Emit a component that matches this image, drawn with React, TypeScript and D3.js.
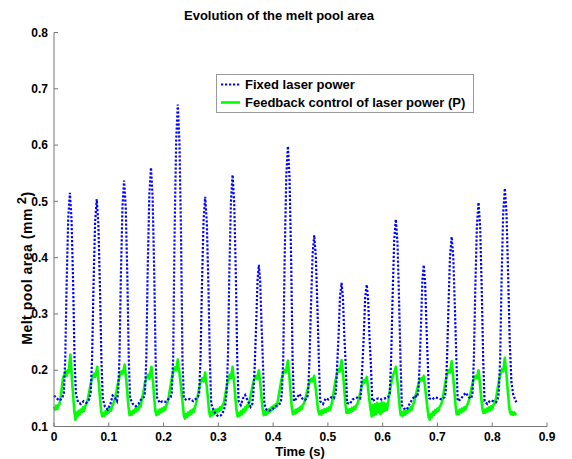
import React from "react";
import * as d3 from "d3";

const title = "Evolution of the melt pool area";
const xLabel = "Time (s)";
const seriesNames = ["Fixed laser power", "Feedback control of laser power (P)"];
const xTickValues = [0, 0.1, 0.2, 0.3, 0.4, 0.5, 0.6, 0.7, 0.8, 0.9];
const yTickValues = [0.1, 0.2, 0.3, 0.4, 0.5, 0.6, 0.7, 0.8];

// Fixed laser power: [time (s), area (mm^2)]
const fixedPower: [number, number][] = [
  [0.000,0.155],[0.005,0.150],[0.010,0.146],[0.015,0.150],
  [0.018,0.16],[0.0205,0.22],[0.023,0.351],[0.026,0.471],[0.029,0.515],[0.032,0.468],[0.035,0.352],[0.0375,0.22],[0.040,0.158],
  [0.044,0.143],[0.049,0.140],[0.054,0.145],[0.059,0.142],[0.064,0.148],
  [0.067,0.16],[0.0695,0.22],[0.072,0.345],[0.075,0.462],[0.078,0.504],[0.081,0.46],[0.084,0.343],[0.0865,0.22],[0.089,0.150],
  [0.093,0.135],[0.098,0.130],[0.103,0.140],[0.107,0.155],[0.112,0.150],[0.115,0.145],
  [0.117,0.16],[0.1195,0.22],[0.122,0.363],[0.125,0.491],[0.128,0.537],[0.131,0.488],[0.134,0.36],[0.1365,0.22],[0.139,0.150],
  [0.144,0.140],[0.149,0.136],[0.154,0.140],[0.159,0.148],[0.164,0.152],
  [0.166,0.16],[0.1685,0.22],[0.171,0.376],[0.174,0.511],[0.177,0.560],[0.180,0.508],[0.183,0.373],[0.1855,0.22],[0.188,0.152],
  [0.193,0.142],[0.198,0.145],[0.204,0.144],[0.210,0.150],[0.213,0.152],
  [0.215,0.16],[0.2175,0.22],[0.220,0.437],[0.223,0.609],[0.226,0.672],[0.229,0.605],[0.232,0.434],[0.2345,0.22],[0.237,0.150],
  [0.242,0.147],[0.248,0.149],[0.254,0.145],[0.260,0.150],[0.263,0.153],
  [0.265,0.16],[0.2675,0.22],[0.270,0.347],[0.273,0.465],[0.276,0.508],[0.279,0.462],[0.282,0.345],[0.2845,0.22],[0.287,0.140],
  [0.291,0.130],[0.295,0.122],[0.300,0.118],[0.305,0.120],[0.310,0.128],[0.313,0.140],
  [0.315,0.16],[0.3175,0.22],[0.320,0.368],[0.323,0.499],[0.326,0.547],[0.329,0.496],[0.332,0.366],[0.3345,0.22],[0.337,0.145],
  [0.341,0.138],[0.345,0.150],[0.349,0.156],[0.354,0.145],[0.359,0.135],[0.362,0.140],
  [0.364,0.16],[0.3665,0.21],[0.369,0.28],[0.3715,0.359],[0.374,0.387],[0.3765,0.356],[0.379,0.278],[0.3815,0.21],[0.384,0.140],
  [0.388,0.130],[0.393,0.128],[0.398,0.130],[0.403,0.135],[0.409,0.138],[0.414,0.142],
  [0.416,0.16],[0.4185,0.22],[0.421,0.396],[0.424,0.544],[0.427,0.598],[0.430,0.541],[0.433,0.393],[0.4355,0.22],[0.438,0.145],
  [0.443,0.150],[0.448,0.158],[0.453,0.150],[0.458,0.147],[0.462,0.150],
  [0.464,0.16],[0.4665,0.22],[0.469,0.31],[0.472,0.405],[0.475,0.44],[0.478,0.402],[0.481,0.308],[0.4835,0.22],[0.486,0.145],
  [0.491,0.140],[0.496,0.150],[0.501,0.148],[0.506,0.152],[0.511,0.150],
  [0.5145,0.16],[0.517,0.21],[0.5195,0.263],[0.522,0.33],[0.525,0.355],[0.5275,0.328],[0.530,0.26],[0.5325,0.21],[0.535,0.142],
  [0.540,0.140],[0.545,0.148],[0.550,0.150],[0.555,0.152],[0.559,0.150],
  [0.5605,0.16],[0.563,0.21],[0.5655,0.261],[0.568,0.328],[0.571,0.352],[0.5735,0.325],[0.576,0.258],[0.5785,0.21],[0.581,0.145],
  [0.586,0.148],[0.592,0.150],[0.598,0.148],[0.604,0.150],[0.610,0.152],
  [0.613,0.16],[0.6155,0.22],[0.618,0.325],[0.621,0.43],[0.624,0.468],[0.627,0.427],[0.630,0.322],[0.6325,0.22],[0.635,0.138],
  [0.639,0.132],[0.644,0.130],[0.649,0.140],[0.654,0.148],[0.659,0.155],[0.662,0.152],
  [0.665,0.16],[0.6675,0.21],[0.670,0.28],[0.6725,0.359],[0.675,0.387],[0.6775,0.356],[0.680,0.278],[0.6825,0.21],[0.685,0.15],
  [0.690,0.148],[0.696,0.152],[0.702,0.150],[0.708,0.148],[0.713,0.152],
  [0.715,0.16],[0.7175,0.22],[0.720,0.308],[0.723,0.403],[0.726,0.437],[0.729,0.4],[0.732,0.306],[0.7345,0.22],[0.737,0.145],
  [0.742,0.148],[0.747,0.155],[0.752,0.160],[0.757,0.152],[0.762,0.150],
  [0.764,0.16],[0.7665,0.22],[0.769,0.341],[0.772,0.456],[0.775,0.498],[0.778,0.453],[0.781,0.338],[0.7835,0.22],[0.786,0.145],
  [0.791,0.140],[0.796,0.146],[0.802,0.145],[0.807,0.143],[0.810,0.148],
  [0.812,0.16],[0.8145,0.22],[0.817,0.355],[0.820,0.478],[0.823,0.523],[0.826,0.48],[0.829,0.37],[0.832,0.25],[0.835,0.18],
  [0.838,0.158],[0.841,0.150],[0.844,0.143],
];

// Feedback control of laser power: [time (s), area (mm^2)]
const feedbackPower: [number, number][] = [
  [0.000,0.135],[0.002,0.130],[0.004,0.137],[0.006,0.131],[0.008,0.138],[0.010,0.140],[0.013,0.158],[0.015,0.175],[0.017,0.188],[0.019,0.192],[0.021,0.198],[0.023,0.190],[0.025,0.200],[0.027,0.196],[0.0285,0.215],[0.030,0.228],[0.0315,0.205],[0.033,0.18],[0.035,0.155],[0.037,0.128],[0.039,0.112],
  [0.041,0.125],[0.043,0.118],[0.045,0.128],[0.047,0.122],[0.049,0.130],[0.051,0.126],[0.053,0.134],[0.055,0.128],[0.057,0.136],
  [0.061,0.145],[0.064,0.160],[0.067,0.176],[0.070,0.186],[0.073,0.194],[0.075,0.188],[0.077,0.196],[0.079,0.206],[0.0805,0.188],[0.082,0.175],[0.084,0.150],[0.086,0.128],[0.088,0.118],
  [0.090,0.124],[0.092,0.119],[0.094,0.127],[0.096,0.122],[0.098,0.130],[0.100,0.125],[0.102,0.133],[0.104,0.128],[0.106,0.136],[0.108,0.140],
  [0.111,0.148],[0.114,0.162],[0.117,0.178],[0.120,0.190],[0.123,0.198],[0.125,0.194],[0.127,0.200],[0.129,0.210],[0.1305,0.195],[0.132,0.182],[0.134,0.158],[0.136,0.135],[0.138,0.120],
  [0.140,0.126],[0.142,0.121],[0.144,0.128],[0.146,0.124],[0.148,0.131],[0.150,0.127],[0.152,0.134],[0.154,0.130],[0.156,0.138],[0.158,0.135],
  [0.160,0.146],[0.163,0.160],[0.166,0.178],[0.169,0.186],[0.172,0.192],[0.174,0.185],[0.176,0.196],[0.178,0.206],[0.1795,0.190],[0.181,0.176],[0.183,0.150],[0.185,0.128],[0.187,0.120],
  [0.189,0.128],[0.191,0.122],[0.193,0.130],[0.195,0.125],[0.197,0.132],[0.199,0.127],[0.201,0.134],[0.203,0.130],[0.205,0.138],[0.207,0.142],
  [0.209,0.150],[0.212,0.168],[0.215,0.185],[0.218,0.198],[0.221,0.205],[0.223,0.200],[0.2245,0.210],[0.226,0.219],[0.2275,0.205],[0.229,0.196],[0.231,0.178],[0.233,0.160],[0.235,0.140],[0.237,0.120],[0.239,0.114],
  [0.241,0.122],[0.243,0.117],[0.245,0.125],[0.247,0.120],[0.249,0.128],[0.251,0.123],[0.253,0.130],[0.255,0.126],[0.257,0.133],
  [0.259,0.140],[0.262,0.152],[0.265,0.168],[0.268,0.180],[0.271,0.186],[0.273,0.180],[0.2745,0.188],[0.276,0.196],[0.2775,0.182],[0.279,0.170],[0.281,0.150],[0.283,0.128],[0.285,0.118],
  [0.287,0.126],[0.289,0.120],[0.291,0.128],[0.293,0.123],[0.295,0.130],[0.297,0.125],[0.299,0.131],[0.301,0.127],[0.303,0.134],[0.305,0.130],[0.307,0.136],
  [0.310,0.142],[0.313,0.158],[0.316,0.174],[0.319,0.186],[0.321,0.192],[0.323,0.186],[0.3245,0.196],[0.326,0.206],[0.3275,0.190],[0.329,0.176],[0.331,0.152],[0.333,0.130],[0.335,0.118],
  [0.337,0.124],[0.339,0.119],[0.341,0.127],[0.343,0.122],[0.345,0.130],[0.347,0.126],[0.349,0.134],[0.351,0.130],[0.353,0.138],[0.355,0.135],
  [0.357,0.145],[0.360,0.160],[0.363,0.175],[0.366,0.185],[0.369,0.190],[0.371,0.184],[0.3725,0.192],[0.374,0.200],[0.3755,0.186],[0.377,0.172],[0.379,0.150],[0.381,0.130],[0.383,0.120],
  [0.385,0.127],[0.387,0.121],[0.389,0.129],[0.391,0.124],[0.393,0.131],[0.395,0.127],[0.397,0.134],[0.399,0.130],[0.401,0.137],[0.403,0.133],[0.405,0.140],[0.407,0.136],
  [0.409,0.148],[0.412,0.165],[0.415,0.182],[0.418,0.194],[0.421,0.200],[0.423,0.196],[0.425,0.206],[0.427,0.217],[0.4285,0.200],[0.430,0.185],[0.432,0.160],[0.434,0.135],[0.436,0.122],
  [0.438,0.128],[0.440,0.123],[0.442,0.130],[0.444,0.125],[0.446,0.132],[0.448,0.128],[0.450,0.135],[0.452,0.131],[0.454,0.138],[0.456,0.141],
  [0.458,0.146],[0.461,0.158],[0.464,0.170],[0.467,0.180],[0.470,0.185],[0.472,0.180],[0.4735,0.186],[0.475,0.190],[0.4765,0.178],[0.478,0.165],[0.480,0.148],[0.482,0.130],[0.484,0.122],
  [0.486,0.127],[0.488,0.121],[0.490,0.129],[0.492,0.124],[0.494,0.131],[0.496,0.126],[0.498,0.132],[0.500,0.128],[0.502,0.134],[0.504,0.130],[0.506,0.137],
  [0.508,0.146],[0.511,0.164],[0.514,0.182],[0.517,0.195],[0.520,0.202],[0.522,0.198],[0.5235,0.208],[0.525,0.218],[0.5265,0.204],[0.528,0.190],[0.530,0.165],[0.532,0.140],[0.534,0.124],
  [0.536,0.130],[0.538,0.124],[0.540,0.131],[0.542,0.126],[0.544,0.133],[0.546,0.128],[0.548,0.135],[0.550,0.131],[0.552,0.138],[0.554,0.140],
  [0.557,0.150],[0.560,0.165],[0.563,0.176],[0.565,0.182],[0.567,0.178],[0.569,0.184],[0.571,0.188],[0.5725,0.176],[0.574,0.162],[0.576,0.145],[0.578,0.130],[0.580,0.118],
  [0.582,0.138],[0.584,0.120],[0.586,0.140],[0.588,0.122],[0.590,0.142],[0.592,0.125],[0.594,0.140],[0.596,0.122],[0.598,0.143],[0.600,0.126],[0.602,0.142],[0.604,0.128],[0.606,0.140],[0.608,0.130],
  [0.611,0.150],[0.614,0.168],[0.617,0.184],[0.620,0.194],[0.622,0.198],[0.624,0.206],[0.6255,0.192],[0.627,0.180],[0.629,0.158],[0.631,0.135],[0.633,0.120],
  [0.635,0.125],[0.637,0.119],[0.639,0.127],[0.641,0.121],[0.643,0.128],[0.645,0.124],[0.647,0.131],[0.649,0.127],[0.651,0.134],[0.653,0.130],[0.655,0.138],[0.657,0.142],
  [0.659,0.150],[0.662,0.162],[0.665,0.174],[0.668,0.182],[0.671,0.186],[0.673,0.182],[0.675,0.190],[0.6765,0.178],[0.678,0.165],[0.680,0.148],[0.682,0.130],[0.684,0.116],
  [0.686,0.112],[0.688,0.122],[0.690,0.117],[0.692,0.126],[0.694,0.121],[0.696,0.129],[0.698,0.125],[0.700,0.132],[0.702,0.128],[0.704,0.135],[0.706,0.138],
  [0.709,0.146],[0.712,0.164],[0.715,0.182],[0.718,0.194],[0.721,0.200],[0.723,0.196],[0.7245,0.206],[0.726,0.216],[0.7275,0.200],[0.729,0.186],[0.731,0.162],[0.733,0.138],[0.735,0.122],
  [0.737,0.128],[0.739,0.122],[0.741,0.130],[0.743,0.125],[0.745,0.132],[0.747,0.127],[0.749,0.134],[0.751,0.130],[0.753,0.136],[0.755,0.140],
  [0.758,0.148],[0.761,0.162],[0.764,0.176],[0.767,0.186],[0.770,0.190],[0.772,0.186],[0.7735,0.193],[0.775,0.200],[0.7765,0.186],[0.778,0.172],[0.780,0.150],[0.782,0.132],[0.784,0.124],
  [0.786,0.130],[0.788,0.125],[0.790,0.132],[0.792,0.127],[0.794,0.134],[0.796,0.129],[0.798,0.136],[0.800,0.131],[0.802,0.138],[0.804,0.141],
  [0.807,0.150],[0.810,0.168],[0.813,0.186],[0.816,0.196],[0.818,0.202],[0.820,0.198],[0.8215,0.210],[0.823,0.222],[0.8245,0.206],[0.826,0.192],[0.828,0.168],[0.830,0.145],[0.832,0.128],
  [0.834,0.122],[0.836,0.126],[0.838,0.121],[0.840,0.125],[0.842,0.122],[0.844,0.124],
];

const W = 572;
const H = 459;
const FONT = "'Liberation Sans', Arial, Helvetica, sans-serif";

export default function App() {
  const x = d3.scaleLinear().domain([0, 0.9]).range([54, 547]);
  const y = d3.scaleLinear().domain([0.1, 0.8]).range([426.5, 32.5]);
  const line = d3
    .line<[number, number]>()
    .x((d) => x(d[0]))
    .y((d) => y(d[1]));

  const axisColor = "#777";
  const x0 = x(0);
  const yBottom = y(0.1);

  return (
    <svg
      width={W}
      height={H}
      style={{ position: "absolute", left: 0, top: 0, background: "#fff" }}
      fontFamily={FONT}
    >
      <rect x={0} y={0} width={W} height={H} fill="#fff" />
      {/* data */}
      <path d={line(feedbackPower) || ""} fill="none" stroke="#00ff00" strokeWidth={2.6} strokeLinejoin="round" />
      <path d={line(fixedPower) || ""} fill="none" stroke="#0000ff" strokeWidth={2.2} strokeDasharray="2.2 1.8" />

      {/* axes */}
      <line x1={x0} y1={y(0.8)} x2={x0} y2={yBottom} stroke={axisColor} strokeWidth={1} />
      <line x1={x0} y1={yBottom} x2={x(0.9)} y2={yBottom} stroke={axisColor} strokeWidth={1} />
      {yTickValues.map((v) => (
        <g key={"y" + v}>
          <line x1={x0} x2={x0 + 4} y1={y(v)} y2={y(v)} stroke={axisColor} />
          <text x={x0 - 6} y={y(v)} dy="0.35em" textAnchor="end" fontSize={12} fontWeight="bold" fill="#000">
            {String(v)}
          </text>
        </g>
      ))}
      {xTickValues.map((v) => (
        <g key={"x" + v}>
          <line x1={x(v)} x2={x(v)} y1={yBottom} y2={yBottom - 4} stroke={axisColor} />
          <text x={x(v)} y={441} textAnchor="middle" fontSize={12} fontWeight="bold" fill="#000">
            {String(v)}
          </text>
        </g>
      ))}

      {/* title and labels */}
      <text x={279} y={20} textAnchor="middle" fontSize={13} fontWeight="bold" fill="#000">
        {title}
      </text>
      <text x={300} y={456} textAnchor="middle" fontSize={13} fontWeight="bold" fill="#000">
        {xLabel}
      </text>
      <text
        transform="translate(32,268) rotate(-90)"
        textAnchor="middle"
        fontSize={14}
        fontWeight="bold"
        letterSpacing={0.5}
        fill="#000"
      >
        Melt pool area (mm
        <tspan dx={4} dy={-6} fontSize={13}>2</tspan>
        <tspan dy={6}>)</tspan>
      </text>

      {/* legend */}
      <rect x={216.5} y={74.5} width={257} height={38} fill="#fff" stroke="#999" strokeWidth={1} />
      <line x1={221} x2={240} y1={84.5} y2={84.5} stroke="#0000ff" strokeWidth={2.2} strokeDasharray="2.2 1.8" />
      <text x={245} y={89} fontSize={13} fontWeight="bold" fill="#000">{seriesNames[0]}</text>
      <line x1={221} x2={240} y1={102.5} y2={102.5} stroke="#00ff00" strokeWidth={2.6} />
      <text x={245} y={107} fontSize={13} fontWeight="bold" fill="#000">{seriesNames[1]}</text>
    </svg>
  );
}
